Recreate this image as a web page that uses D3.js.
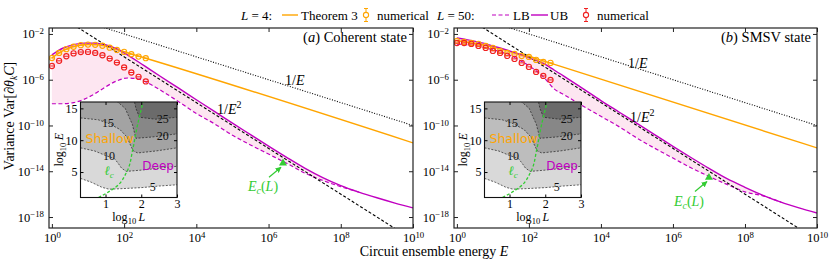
<!DOCTYPE html>
<html>
<head>
<meta charset="utf-8">
<script src="https://cdn.jsdelivr.net/npm/d3@7"></script>
<style>
body { margin: 0; background: #fff; }
svg text { font-family: "Liberation Serif", "Times New Roman", serif; }
.sans { font-family: "DejaVu Sans", sans-serif !important; }
</style>
</head>
<body>
<svg id="fig" width="830" height="261"></svg>
<script>
// ---- data (all values are log10) ----
const logE_grid = [0, 0.3, 0.6, 0.9, 1.2, 1.5, 1.8, 2.1, 2.4, 2.7, 3, 3.5, 4, 4.5, 5, 5.5, 6, 6.5, 7, 7.5, 8, 8.5, 9, 9.5, 10];

// L = 50 upper / lower bounds
const ub_coherent = [-3.83, -3.25, -2.93, -2.8, -2.8, -2.95, -3.3, -3.85, -4.45, -5.08, -5.7, -6.72, -7.75, -8.77, -9.8, -10.8, -11.8, -12.78, -13.72, -14.55, -15.25, -15.82, -16.32, -16.78, -17.2];
const lb_coherent = [-8.1, -8.1, -8.0, -7.7, -7.2, -6.6, -6.1, -5.85, -5.95, -6.35, -6.9, -7.9, -8.95, -9.85, -10.85, -11.7, -12.5, -13.3, -14.15, -14.8, -15.35, -15.82];
const ub_smsv = [-2.35, -2.52, -2.72, -2.95, -3.22, -3.52, -3.85, -4.2, -4.58, -5.15, -5.75, -6.78, -7.82, -8.82, -9.82, -10.82, -11.82, -12.8, -13.75, -14.65, -15.4, -16.1, -16.7, -17.2, -17.65];
const lb_smsv = [-2.9, -2.95, -3.1, -3.3, -3.55, -3.9, -4.4, -5.0, -5.75, -6.8, -7.35, -8.3, -9.2, -10.1, -11.1, -12.0, -12.85, -13.7, -14.45, -15.15, -15.8, -16.15, -16.7];

// numerical points
const num_logE = [0, 0.2, 0.4, 0.6, 0.8, 1.0, 1.2, 1.4, 1.6, 1.8, 2.0, 2.2, 2.4, 2.6];
const num_L4_coherent = [-4.1, -3.66, -3.33, -3.12, -2.98, -2.93, -2.95, -3.03, -3.2, -3.4, -3.57, -3.77, -3.98, -4.12];
const num_L50_coherent = [-4.8, -4.35, -3.95, -3.7, -3.58, -3.57, -3.66, -3.86, -4.15, -4.5, -4.93, -5.37, -5.75, -6.15];
const num_L4_smsv = [-2.61, -2.7, -2.79, -2.87, -3.05, -3.22, -3.48, -3.66, -3.75, -3.92, -4.01, -4.27, -4.45, -4.53];
const num_L50_smsv = [-2.79, -2.79, -2.87, -3.05, -3.22, -3.48, -3.66, -3.92, -4.18, -4.53, -4.88, -5.32, -5.67, -6.02];

// Theorem 3 (L = 4)
const thm3_logE = [0, 0.2, 0.4, 0.6, 0.8, 1.0, 1.2, 1.4, 1.6, 1.8, 2.0, 2.2, 2.4, 2.6, 10];
const thm3_coherent = [-4.1, -3.65, -3.32, -3.1, -2.97, -2.92, -2.93, -3.0, -3.15, -3.35, -3.55, -3.75, -3.93, -4.12, -11.52];
const thm3_smsv = [-2.6, -2.68, -2.78, -2.88, -3.0, -3.15, -3.3, -3.47, -3.65, -3.8, -3.95, -4.15, -4.35, -4.55, -11.96];

// guide lines 1/E and 1/E^2
const guide_logE = [0, 10];
const guide_inv_E = [0, -10];
const guide_inv_E2 = [0, -20];

// E_c(L) marker
const ec_coherent = [6.4, -13.3];
const ec_smsv = [7.0, -14.55];

const x_ticks = [0, 2, 4, 6, 8, 10];
const y_ticks = [-2, -6, -10, -14, -18];

// inset: contour lines [log10 L, log10 E]
const contour_levels = [5, 10, 15, 20, 25];
const contour_5 = [[0.3, 4.0], [0.6, 3.4], [0.9, 2.6], [1.1, 2.3], [1.5, 2.4], [2.0, 2.55], [2.5, 2.8], [3.0, 3.0]];
const contour_10 = [[0.3, 8.8], [0.7, 8.3], [1.0, 7.6], [1.25, 7.1], [1.35, 6.4], [1.45, 5.6], [1.58, 5.1], [2.0, 5.3], [2.5, 5.6], [3.0, 5.9]];
const contour_15 = [[0.3, 13.5], [0.8, 13.2], [1.1, 12.6], [1.4, 11.7], [1.6, 10.5], [1.7, 9.2], [1.78, 8.3], [1.9, 8.0], [2.4, 8.3], [3.0, 8.8]];
const contour_20 = [[0.3, 18], [1.0, 17], [1.3, 16.2], [1.55, 15], [1.75, 12.5], [1.85, 10.3], [2.3, 10.5], [3.0, 11.0]];
const contour_25 = [[0.3, 18.5], [1.6, 17.5], [1.8, 16.3], [1.85, 15], [1.95, 13.6], [2.4, 13.3], [3.0, 13.6]];
const contour_label_at = [[2.32, 2.7], [1.1, 7.5], [1.07, 12.7], [2.6, 10.7], [2.6, 13.3]];
const lc_curve = [[0.8, 1.0], [1.0, 1.6], [1.29, 2.66], [1.6, 5.1], [1.76, 8.5], [1.88, 12], [2.05, 16]];
const inset_xticks = [1, 2, 3];
const inset_yticks = [5, 10, 15];

// ---- drawing ----
const ORANGE = "#ffa500", MAG = "#c000c0", RED = "#f02020", GREEN = "#33cc33";
const band_colors = ["#ffffff", "#d9d9d9", "#bdbdbd", "#a3a3a3", "#878787", "#6b6b6b"];
const svg = d3.select("#fig");
const defs = svg.append("defs");
defs.append("marker").attr("id", "arrow").attr("viewBox", "0 0 10 10")
    .attr("refX", 9).attr("refY", 5).attr("markerWidth", 5).attr("markerHeight", 5)
    .attr("orient", "auto")
    .append("path").attr("d", "M0,0 L10,5 L0,10 z").attr("fill", GREEN);

const TOP = 28, BOTTOM = 228;
const pow = (v) => Math.pow(10, v);

const sup_labels = (sel) => {
    sel.selectAll(".tick text").each(function (d) {
        const e = Math.round(Math.log10(d));
        const t = d3.select(this).text(null);
        t.append("tspan").text("10");
        t.append("tspan").attr("dy", "-0.5em").attr("font-size", "0.7em")
            .text(e < 0 ? "\u2212" + -e : e);
    });
};

const marker = (g, xs, ys, X, Y, color) => {
    const m = g.selectAll(null).data(xs).enter().append("g")
        .attr("transform", (d, i) => `translate(${X(d)},${Y(ys[i])})`);
    m.append("circle").attr("r", 2.6).attr("fill", "none").attr("stroke", color).attr("stroke-width", 1.1);
    m.append("line").attr("x1", -2.6).attr("x2", 2.6).attr("stroke", color).attr("stroke-width", 1);
};

const drawInset = (p) => {
    const x0 = p.ix0, x1 = p.ix0 + 96.5, y0 = 102, y1 = 197.5;
    const ix = d3.scaleLinear().domain([0.3, 3]).range([x0, x1]);
    const iy = d3.scaleLinear().domain([1, 16]).range([y1, y0]);
    const id = "iclip-" + p.key;
    defs.append("clipPath").attr("id", id).append("rect")
        .attr("x", x0).attr("y", y0).attr("width", x1 - x0).attr("height", y1 - y0);
    const g = svg.append("g");
    const cg = g.append("g").attr("clip-path", `url(#${id})`);
    cg.append("rect").attr("x", x0).attr("y", y0).attr("width", x1 - x0).attr("height", y1 - y0)
        .attr("fill", band_colors[5]);
    const lines = [contour_5, contour_10, contour_15, contour_20, contour_25];
    const below = d3.area().x((d) => ix(d[0])).y0(iy(-2)).y1((d) => iy(d[1]));
    for (let i = 4; i >= 0; i--) {
        cg.append("path").attr("d", below(lines[i])).attr("fill", band_colors[i]);
    }
    const ln = d3.line().x((d) => ix(d[0])).y((d) => iy(d[1]));
    lines.forEach((c) => {
        cg.append("path").attr("d", ln(c)).attr("fill", "none").attr("stroke", "#222")
            .attr("stroke-width", 0.7).attr("stroke-dasharray", "2,1.5");
    });
    contour_label_at.forEach((c, i) => {
        cg.append("text").attr("x", ix(c[0])).attr("y", iy(c[1])).attr("dy", "0.35em")
            .attr("text-anchor", "middle").attr("font-size", 12).attr("fill", "#111")
            .text(contour_levels[i]);
    });
    cg.append("text").attr("class", "sans").attr("x", ix(0.44)).attr("y", iy(10.3)).attr("dy", "0.35em")
        .attr("font-size", 12.5).attr("fill", ORANGE).text("Shallow");
    cg.append("text").attr("class", "sans").attr("x", ix(2.03)).attr("y", iy(6.0)).attr("dy", "0.35em")
        .attr("font-size", 12).attr("fill", MAG).text("Deep");
    cg.append("path").attr("d", d3.line().curve(d3.curveMonotoneY).x((d) => ix(d[0])).y((d) => iy(d[1]))(lc_curve))
        .attr("fill", "none").attr("stroke", GREEN).attr("stroke-width", 1.3).attr("stroke-dasharray", "3,2");
    const lt = cg.append("text").attr("x", ix(1.1)).attr("y", iy(5.3)).attr("dy", "0.35em")
        .attr("text-anchor", "middle").attr("font-size", 13).attr("fill", GREEN);
    lt.append("tspan").attr("font-style", "italic").text("\u2113");
    lt.append("tspan").attr("font-style", "italic").attr("font-size", 9).attr("dy", 3).text("c");

    g.append("rect").attr("x", x0).attr("y", y0).attr("width", x1 - x0).attr("height", y1 - y0)
        .attr("fill", "none").attr("stroke", "#111").attr("stroke-width", 1.1);
    const axStyle = (s) => s.attr("font-family", null).attr("font-size", 12).call((a) => a.select(".domain").remove());
    g.append("g").attr("transform", `translate(0,${y1})`)
        .call(d3.axisBottom(ix).tickValues(inset_xticks).tickSize(-3).tickPadding(2).tickFormat(d3.format("d"))).call(axStyle);
    g.append("g").attr("transform", `translate(${x0},0)`)
        .call(d3.axisLeft(iy).tickValues(inset_yticks).tickSize(-3).tickPadding(3).tickFormat(d3.format("d"))).call(axStyle);
    g.append("g").attr("transform", `translate(0,${y0})`)
        .call(d3.axisTop(ix).tickValues(inset_xticks).tickSize(-3).tickFormat("")).call(axStyle);
    g.append("g").attr("transform", `translate(${x1},0)`)
        .call(d3.axisRight(iy).tickValues(inset_yticks).tickSize(-3).tickFormat("")).call(axStyle);

    const xl = g.append("text").attr("x", (x0 + x1) / 2).attr("y", 221).attr("text-anchor", "middle").attr("font-size", 12);
    xl.append("tspan").text("log");
    xl.append("tspan").attr("font-size", 8.5).attr("dy", 3).text("10");
    xl.append("tspan").attr("dy", -3).attr("font-style", "italic").text("\u2009L");
    const yl = g.append("text").attr("transform", `translate(${x0 - 18},${(y0 + y1) / 2}) rotate(-90)`)
        .attr("text-anchor", "middle").attr("font-size", 12);
    yl.append("tspan").text("log");
    yl.append("tspan").attr("font-size", 8.5).attr("dy", 3).text("10");
    yl.append("tspan").attr("dy", -3).attr("font-style", "italic").text("\u2009E");
};

const drawPanel = (p) => {
    const x = d3.scaleLog().domain([pow(-0.08), pow(10)]).range([p.left, p.right]);
    const y = d3.scaleLog().domain([pow(-18.96), pow(-1.48)]).range([BOTTOM, TOP]);
    const X = (le) => x(pow(le));
    const Y = (lv) => y(pow(lv));
    const id = "clip-" + p.key;
    defs.append("clipPath").attr("id", id).append("rect")
        .attr("x", p.left).attr("y", TOP).attr("width", p.right - p.left).attr("height", BOTTOM - TOP);
    const g = svg.append("g");
    const plot = g.append("g").attr("clip-path", `url(#${id})`);

    // shaded region between bounds
    const band = d3.area().curve(d3.curveMonotoneX)
        .x((d, i) => X(logE_grid[i])).y0((d) => Y(d)).y1((d, i) => Y(p.ub[i]));
    plot.append("path").datum(p.lb).attr("d", band).attr("fill", "#fde6f1");

    const line = (xs) => d3.line().curve(d3.curveMonotoneX).x((d, i) => X(xs[i])).y((d) => Y(d));
    plot.append("path").datum(p.thm3).attr("d", line(thm3_logE)).attr("fill", "none")
        .attr("stroke", ORANGE).attr("stroke-width", 1.4);
    plot.append("path").datum(p.ub).attr("d", line(logE_grid)).attr("fill", "none")
        .attr("stroke", MAG).attr("stroke-width", 1.4);
    plot.append("path").datum(p.lb).attr("d", line(logE_grid)).attr("fill", "none")
        .attr("stroke", MAG).attr("stroke-width", 1.2).attr("stroke-dasharray", "4,2.5");
    plot.append("path").datum(guide_inv_E).attr("d", line(guide_logE)).attr("fill", "none")
        .attr("stroke", "#000").attr("stroke-width", 1.1).attr("stroke-dasharray", "1,1.6");
    plot.append("path").datum(guide_inv_E2).attr("d", line(guide_logE)).attr("fill", "none")
        .attr("stroke", "#000").attr("stroke-width", 1.1).attr("stroke-dasharray", "3,2");

    marker(plot, num_logE, p.numL4, X, Y, ORANGE);
    marker(plot, num_logE, p.numL50, X, Y, RED);

    // E_c(L)
    plot.append("path").attr("d", d3.symbol().type(d3.symbolTriangle).size(28)())
        .attr("transform", `translate(${X(p.ec[0])},${Y(p.ec[1])})`).attr("fill", GREEN);
    const lx = X(p.ec[0]) + p.ecLabelDx, ly = Y(p.ec[1]) + 24;
    plot.append("line").attr("x1", lx + 6).attr("y1", ly - 10).attr("x2", X(p.ec[0]) - 2).attr("y2", Y(p.ec[1]) + 4)
        .attr("stroke", GREEN).attr("stroke-width", 1.2).attr("marker-end", "url(#arrow)");
    const et = plot.append("text").attr("x", lx).attr("y", ly + 4).attr("text-anchor", "middle")
        .attr("font-size", 14).attr("fill", GREEN);
    et.append("tspan").attr("font-style", "italic").text("E");
    et.append("tspan").attr("font-style", "italic").attr("font-size", 10).attr("dy", 3).text("c");
    et.append("tspan").attr("dy", -3).text("(");
    et.append("tspan").attr("font-style", "italic").text("L");
    et.append("tspan").text(")");

    // guide labels
    const t1 = plot.append("text").attr("x", p.invE[0]).attr("y", p.invE[1]).attr("font-size", 14);
    t1.append("tspan").text("1/");
    t1.append("tspan").attr("font-style", "italic").text("E");
    const t2 = plot.append("text").attr("x", p.invE2[0]).attr("y", p.invE2[1]).attr("font-size", 14);
    t2.append("tspan").text("1/");
    t2.append("tspan").attr("font-style", "italic").text("E");
    t2.append("tspan").attr("font-size", 10).attr("dy", -6).text("2");

    // title
    const tt = g.append("text").attr("x", p.right - 6).attr("y", 42).attr("text-anchor", "end").attr("font-size", 14.5);
    tt.append("tspan").text("(");
    tt.append("tspan").attr("font-style", "italic").text(p.tag);
    tt.append("tspan").text(") " + p.title);

    // frame and axes
    g.append("rect").attr("x", p.left).attr("y", TOP).attr("width", p.right - p.left).attr("height", BOTTOM - TOP)
        .attr("fill", "none").attr("stroke", "#222").attr("stroke-width", 1.2);
    const xv = x_ticks.map(pow), yv = y_ticks.map(pow);
    const axStyle = (s) => s.attr("font-family", null).attr("font-size", 12.5).call((a) => a.select(".domain").remove());
    g.append("g").attr("transform", `translate(0,${BOTTOM})`)
        .call(d3.axisBottom(x).tickValues(xv).tickSize(-4).tickPadding(5)).call(axStyle).call(sup_labels);
    g.append("g").attr("transform", `translate(${p.left},0)`)
        .call(d3.axisLeft(y).tickValues(yv).tickSize(-4).tickPadding(5)).call(axStyle).call(sup_labels);
    g.append("g").attr("transform", `translate(0,${TOP})`)
        .call(d3.axisTop(x).tickValues(xv).tickSize(-4).tickFormat("")).call(axStyle);
    g.append("g").attr("transform", `translate(${p.right},0)`)
        .call(d3.axisRight(y).tickValues(yv).tickSize(-4).tickFormat("")).call(axStyle);
    g.selectAll(".tick line").attr("stroke", "#222");

    drawInset({ key: p.key, ix0: p.inset });
};

drawPanel({
    key: "a", left: 49, right: 413, tag: "a", title: "Coherent state",
    ub: ub_coherent, lb: lb_coherent, thm3: thm3_coherent,
    numL4: num_L4_coherent, numL50: num_L50_coherent, ec: ec_coherent, ecLabelDx: -20,
    invE: [285, 85], invE2: [217, 114], inset: 80.5,
});
drawPanel({
    key: "b", left: 454, right: 817, tag: "b", title: "SMSV state",
    ub: ub_smsv, lb: lb_smsv, thm3: thm3_smsv,
    numL4: num_L4_smsv, numL50: num_L50_smsv, ec: ec_smsv, ecLabelDx: -20,
    invE: [628, 68], invE2: [630, 122], inset: 484.5,
});

// axis titles
const ylab = svg.append("text").attr("transform", "translate(14,116) rotate(-90)")
    .attr("text-anchor", "middle").attr("font-size", 14);
ylab.append("tspan").text("Variance Var[\u2202");
ylab.append("tspan").attr("font-style", "italic").text("\u03b8");
ylab.append("tspan").attr("font-style", "italic").attr("font-size", 9.5).attr("dy", 3).text("k");
ylab.append("tspan").attr("font-style", "italic").attr("dy", -3).text("C");
ylab.append("tspan").text("]");
const xlab = svg.append("text").attr("x", 434).attr("y", 256).attr("text-anchor", "middle").attr("font-size", 14);
xlab.append("tspan").text("Circuit ensemble energy ");
xlab.append("tspan").attr("font-style", "italic").text("E");

// legend
const LY = 15;
const leg = svg.append("g").attr("font-size", 13);
const legText = (x, parts) => {
    const t = leg.append("text").attr("x", x).attr("y", LY + 4.5);
    parts.forEach(([s, it]) => t.append("tspan").attr("font-style", it ? "italic" : null).text(s));
};
const legMarker = (cx, color) => {
    const m = leg.append("g").attr("transform", `translate(${cx},${LY})`).attr("stroke", color).attr("fill", "none");
    m.append("line").attr("y1", -6.5).attr("y2", 6.5).attr("stroke-width", 1);
    m.append("line").attr("x1", -2).attr("x2", 2).attr("y1", -6.5).attr("y2", -6.5);
    m.append("line").attr("x1", -2).attr("x2", 2).attr("y1", 6.5).attr("y2", 6.5);
    m.append("circle").attr("r", 2.6).attr("fill", "#fff").attr("stroke-width", 1.1);
};
legText(241, [["L", true], [" = 4:", false]]);
leg.append("line").attr("x1", 282).attr("x2", 298).attr("y1", LY).attr("y2", LY).attr("stroke", ORANGE).attr("stroke-width", 1.4);
legText(301, [["Theorem 3", false]]);
legMarker(366, ORANGE);
legText(377, [["numerical", false]]);
legText(437, [["L", true], [" = 50:", false]]);
leg.append("line").attr("x1", 492).attr("x2", 511).attr("y1", LY).attr("y2", LY).attr("stroke", MAG)
    .attr("stroke-width", 1.2).attr("stroke-dasharray", "4,2.5");
legText(513, [["LB", false]]);
leg.append("line").attr("x1", 531).attr("x2", 548).attr("y1", LY).attr("y2", LY).attr("stroke", MAG).attr("stroke-width", 1.4);
legText(550, [["UB", false]]);
legMarker(586, RED);
legText(597, [["numerical", false]]);
</script>
</body>
</html>
